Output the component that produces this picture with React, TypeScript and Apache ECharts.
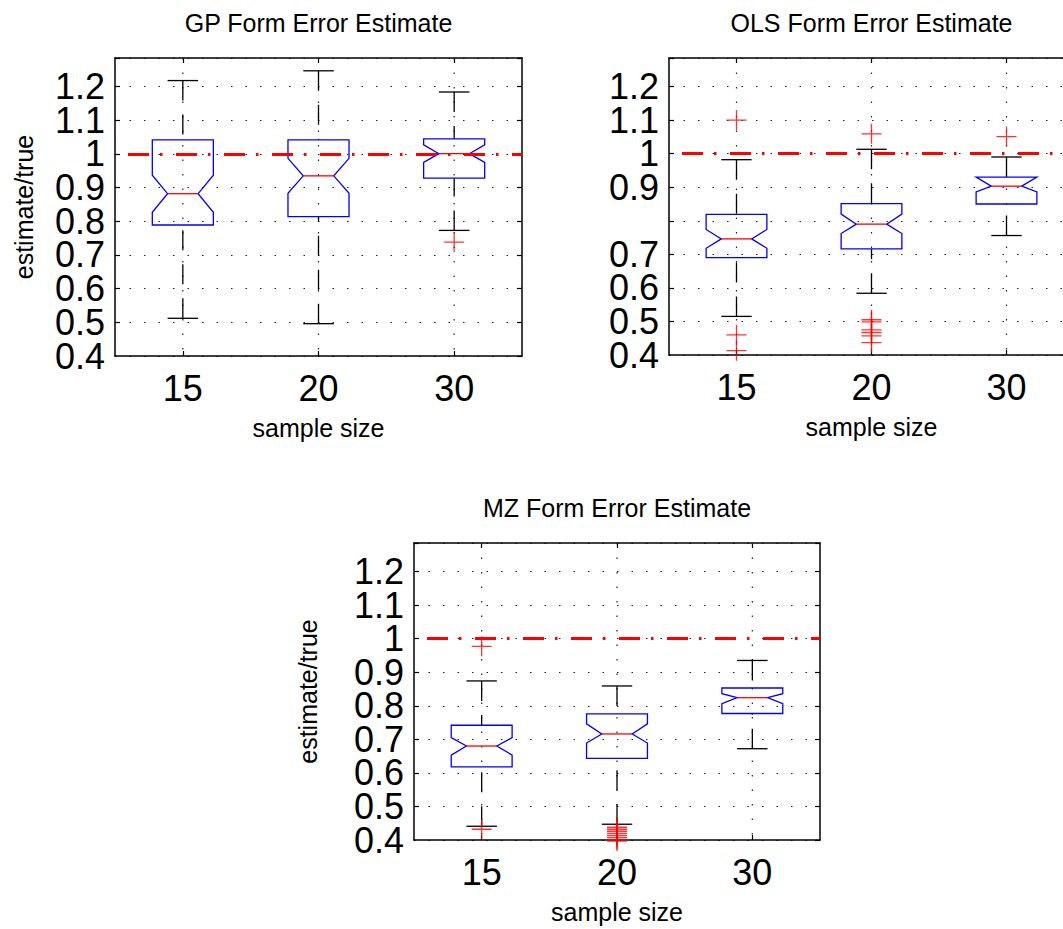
import React, { useEffect, useRef } from "react";
import * as echarts from "echarts";

const FONT = '"Liberation Sans", Arial, Helvetica, sans-serif';

const categories = ["15", "20", "30"];
const yTicks = { min: 0.4, max: 1.285, step: 0.1 };
const referenceValue = 1;

// GP panel
const gpLower = [0.512, 0.496, 0.773];
const gpQ1 = [0.789, 0.814, 0.928];
const gpNotchLow = [0.827, 0.883, 0.975];
const gpMedian = [0.882, 0.935, 1.001];
const gpNotchHigh = [0.937, 0.987, 1.027];
const gpQ3 = [1.042, 1.042, 1.045];
const gpUpper = [1.218, 1.247, 1.184];
const gpOutliers = [[2, 0.738]];

// OLS panel
const olsLower = [0.515, 0.584, 0.756];
const olsQ1 = [0.69, 0.716, 0.85];
const olsNotchLow = [0.718, 0.762, 0.886];
const olsMedian = [0.746, 0.79, 0.903];
const olsNotchHigh = [0.774, 0.82, 0.93];
const olsQ3 = [0.819, 0.851, 0.93];
const olsUpper = [0.982, 1.013, 0.99];
const olsOutliers = [
  [0, 1.1], [0, 0.46], [0, 0.413],
  [1, 1.059], [1, 0.505], [1, 0.499], [1, 0.475], [1, 0.467], [1, 0.457], [1, 0.437],
  [2, 1.051],
];

// MZ panel
const mzLower = [0.441, 0.447, 0.672];
const mzQ1 = [0.618, 0.643, 0.777];
const mzNotchLow = [0.653, 0.689, 0.806];
const mzMedian = [0.68, 0.716, 0.824];
const mzNotchHigh = [0.705, 0.746, 0.836];
const mzQ3 = [0.742, 0.776, 0.853];
const mzUpper = [0.874, 0.859, 0.935];
const mzOutliers = [
  [0, 0.977], [0, 0.432],
  [1, 0.438], [1, 0.432], [1, 0.426], [1, 0.42], [1, 0.414], [1, 0.408], [1, 0.402], [1, 0.397],
];

const panels = [
  {
    title: "GP Form Error Estimate",
    stats: [gpLower, gpQ1, gpNotchLow, gpMedian, gpNotchHigh, gpQ3, gpUpper],
    outliers: gpOutliers,
    grid: { left: 115, top: 58, width: 407, height: 298 },
    yName: "estimate/true",
    yNameGap: 78.5,
    hiddenLabels: [] as number[],
  },
  {
    title: "OLS Form Error Estimate",
    stats: [olsLower, olsQ1, olsNotchLow, olsMedian, olsNotchHigh, olsQ3, olsUpper],
    outliers: olsOutliers,
    grid: { left: 669, top: 58, width: 405, height: 297 },
    yName: "",
    yNameGap: 0,
    hiddenLabels: [0.8],
  },
  {
    title: "MZ Form Error Estimate",
    stats: [mzLower, mzQ1, mzNotchLow, mzMedian, mzNotchHigh, mzQ3, mzUpper],
    outliers: mzOutliers,
    grid: { left: 414, top: 543, width: 406, height: 297 },
    yName: "estimate/true",
    yNameGap: 93.5,
    hiddenLabels: [] as number[],
  },
];

const BLUE = "#0000ff";
const RED = "#ff0000";
const LW = 1.3;

function renderBox(params: any, api: any) {
  const i = api.value(0);
  const y = (k: number) => api.coord([i, api.value(k)])[1];
  const cx = api.coord([i, api.value(4)])[0];
  const yLower = y(1), yQ1 = y(2), yNL = y(3), yMed = y(4), yNH = y(5), yQ3 = y(6), yUpper = y(7);
  const band = api.size([1, 0])[0];
  const hw = band * 0.225;
  const d = hw / 2;
  const cs = params.coordSys;
  const xl = cx - hw, xr = cx + hw;
  const black = { stroke: "#000", lineWidth: LW };
  return {
    type: "group",
    children: [
      {
        type: "line",
        shape: { x1: cx, y1: cs.y, x2: cx, y2: cs.y + cs.height },
        style: { stroke: "#222", lineWidth: 1.2, lineDash: [1.5, 13] },
        silent: true,
      },
      {
        type: "line",
        shape: { x1: cx, y1: yUpper, x2: cx, y2: yQ3 },
        style: { ...black, lineDash: [20, 14] },
      },
      {
        type: "line",
        shape: { x1: cx, y1: yLower, x2: cx, y2: yQ1 },
        style: { ...black, lineDash: [20, 14] },
      },
      { type: "line", shape: { x1: cx - d, y1: yUpper, x2: cx + d, y2: yUpper }, style: black },
      { type: "line", shape: { x1: cx - d, y1: yLower, x2: cx + d, y2: yLower }, style: black },
      {
        type: "polygon",
        shape: {
          points: [
            [xl, yQ3], [xr, yQ3], [xr, yNH], [xr - d, yMed], [xr, yNL], [xr, yQ1],
            [xl, yQ1], [xl, yNL], [xl + d, yMed], [xl, yNH],
          ],
        },
        style: { fill: "none", stroke: BLUE, lineWidth: LW },
      },
      {
        type: "line",
        shape: { x1: xl + d, y1: yMed, x2: xr - d, y2: yMed },
        style: { stroke: RED, lineWidth: LW },
      },
    ],
  };
}

const isStep = (v: number) => Math.abs(Math.round(v * 10) / 10 - v) < 1e-6;
const fmtNum = (v: number) => String(Number((Math.round(v * 10) / 10).toFixed(1)));

function fmtLabel(hidden: number[]) {
  return (v: number) => {
    if (!isStep(v)) return "";
    if (hidden.some((h) => Math.abs(h - v) < 1e-6)) return "";
    return fmtNum(v);
  };
}

function fmtMinOnly(v: number) {
  return Math.abs(v - yTicks.min) < 1e-6 ? fmtNum(v) : "";
}

function buildOption() {
  const grid: any[] = [];
  const xAxis: any[] = [];
  const yAxis: any[] = [];
  const series: any[] = [];
  const graphic: any[] = [];
  const axisLine = { show: true, lineStyle: { color: "#000", width: 1.5 } };
  const tick = { show: true, inside: true, length: 5, lineStyle: { color: "#000", width: 1.2 } };
  const labelBase = { fontSize: 36, color: "#000", fontFamily: FONT, margin: 10, hideOverlap: false };

  panels.forEach((p, gi) => {
    grid.push({ ...p.grid, containLabel: false });
    const xBase = {
      type: "category",
      gridIndex: gi,
      data: categories,
      boundaryGap: true,
      axisLine,
      axisTick: { ...tick, alignWithLabel: true },
      splitLine: { show: false },
    };
    xAxis.push({
      ...xBase,
      position: "bottom",
      axisLabel: { fontSize: 36, color: "#000", fontFamily: FONT, margin: 14 },
      name: "sample size",
      nameLocation: "middle",
      nameGap: 59.5,
      nameTextStyle: { fontSize: 25, color: "#000", fontFamily: FONT },
    });
    xAxis.push({ ...xBase, position: "top", axisLabel: { show: false } });
    const yBase = {
      type: "value",
      gridIndex: gi,
      min: yTicks.min,
      max: yTicks.max,
      interval: yTicks.step,
      axisLine,
      axisTick: tick,
    };
    yAxis.push({
      ...yBase,
      position: "left",
      axisLabel: {
        ...labelBase,
        showMinLabel: false,
        showMaxLabel: true,
        formatter: fmtLabel(p.hiddenLabels),
      },
      splitLine: { show: true, lineStyle: { color: "#222", width: 1.2, type: [1.5, 13] } },
      name: p.yName,
      nameLocation: "middle",
      nameGap: p.yNameGap,
      nameTextStyle: { fontSize: 25, color: "#000", fontFamily: FONT },
    });
    yAxis.push({ ...yBase, position: "right", axisLabel: { show: false }, splitLine: { show: false } });
    // second left axis carrying only the bottom tick label
    yAxis.push({
      ...yBase,
      position: "left",
      axisLine: { show: false },
      axisTick: { show: false },
      splitLine: { show: false },
      axisLabel: { ...labelBase, showMinLabel: true, showMaxLabel: false, formatter: fmtMinOnly },
    });

    const xi = gi * 2;
    const yi = gi * 3;
    const [lo, q1, nl, md, nh, q3, up] = p.stats;
    series.push({
      type: "custom",
      xAxisIndex: xi,
      yAxisIndex: yi,
      renderItem: renderBox,
      encode: { x: 0, y: [1, 2, 3, 4, 5, 6, 7] },
      data: categories.map((_, i) => [i, lo[i], q1[i], nl[i], md[i], nh[i], q3[i], up[i]]),
      clip: false,
      z: 2,
    });
    series.push({
      type: "scatter",
      xAxisIndex: xi,
      yAxisIndex: yi,
      data: p.outliers,
      symbol: "path://M0,5L10,5M5,0L5,10",
      symbolSize: 20,
      itemStyle: { color: "none", borderColor: RED, borderWidth: 1.3 },
      clip: false,
      z: 3,
      markLine: {
        silent: true,
        symbol: ["none", "none"],
        label: { show: false },
        lineStyle: { color: RED, width: 3, type: [21, 11, 2.5, 13.5], dashOffset: 34.5 },
        data: [{ yAxis: referenceValue }],
        z: 4,
      },
    });

    graphic.push({
      type: "text",
      x: p.grid.left + p.grid.width / 2,
      y: p.grid.top - 35,
      style: {
        text: p.title,
        font: `25px ${FONT}`,
        fill: "#000",
        textAlign: "center",
        textVerticalAlign: "middle",
      },
    });
  });

  return {
    animation: false,
    backgroundColor: "#fff",
    grid,
    xAxis,
    yAxis,
    series,
    graphic,
  };
}

export default function App() {
  const ref = useRef<HTMLDivElement>(null);
  useEffect(() => {
    if (!ref.current) return;
    const chart = echarts.init(ref.current, undefined, { renderer: "svg" });
    chart.setOption(buildOption() as any);
    return () => chart.dispose();
  }, []);
  return (
    <div
      style={{
        position: "absolute",
        left: 0,
        top: 0,
        width: 1063,
        height: 929,
        overflow: "hidden",
        background: "#fff",
      }}
    >
      <div ref={ref} style={{ width: 1110, height: 929 }} />
    </div>
  );
}
